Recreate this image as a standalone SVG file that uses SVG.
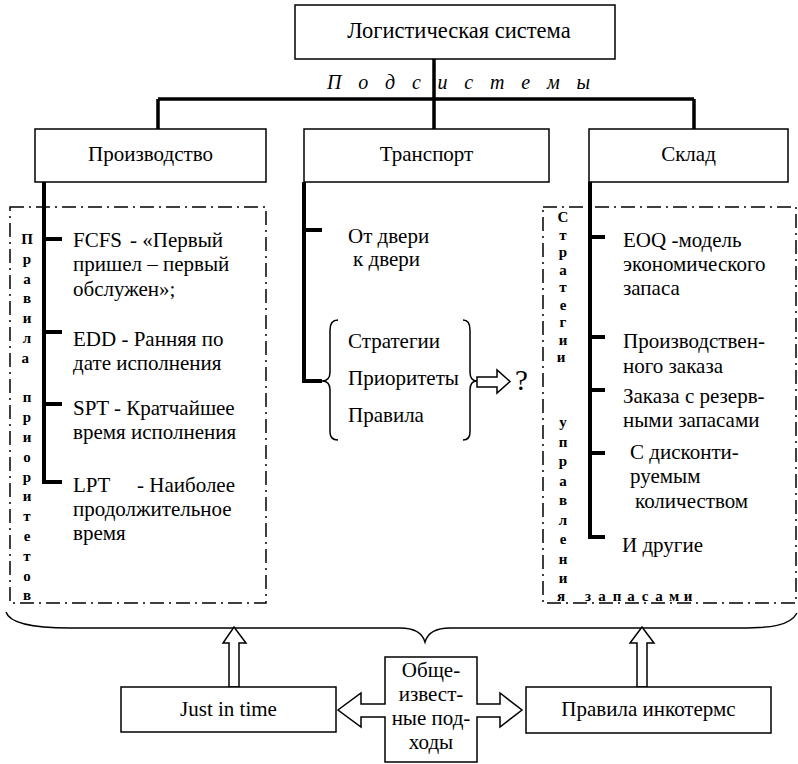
<svg xmlns="http://www.w3.org/2000/svg" width="798" height="764" viewBox="0 0 798 764" font-family="'Liberation Serif', Tinos, 'Times New Roman', serif">
<style>
.box{fill:#fff;stroke:#000;stroke-width:1.5}
.t{font-family:'Liberation Serif',Tinos,'Times New Roman',serif;font-size:21px;font-weight:normal;font-style:normal;fill:#000}
.c{text-anchor:middle}
.thick{stroke:#000;stroke-width:4;fill:none}
.bar{stroke:#000;stroke-width:3.5;fill:none}
.dd{fill:none;stroke:#000;stroke-width:1.5;stroke-dasharray:14 5 2 5}
.v{font-family:'Liberation Serif',Tinos,'Times New Roman',serif;font-weight:bold;font-size:15px;text-anchor:middle;fill:#000}
.it{font-family:'Liberation Serif',Tinos,'Times New Roman',serif;font-style:italic;font-size:20px;fill:#000}
.line{fill:none;stroke:#000;stroke-width:1.5}
.arr{fill:#fff;stroke:#000;stroke-width:1.5;stroke-linejoin:miter}
</style>
<rect width="798" height="764" fill="#fff"/>

<g id="connectors">
  <path class="bar" d="M434 59 V129 M158 99 H694 M158 99 V129 M694 99 V129"/>
  <path class="thick" d="M44 182 V482 H62 M44 239 H62 M44 332 H62 M44 404 H62"/>
  <path class="thick" d="M304 182 V381 H322 M304 230 H322"/>
  <path class="thick" d="M590 182 V537 H605 M590 237 H605 M590 337 H605 M590 390 H605 M590 453 H605"/>
  <path class="line" d="M6 612 C10 625 40 628 70 628 L400 628 C418 628 423 635 425 642 C427 635 432 628 450 628 L740 628 C770 628 790 626 797 613"/>
  <polygon class="arr" points="229,687 229,643 223,643 234,627 246,643 239,643 239,687"/>
  <polygon class="arr" points="637,687 637,643 630,643 642,627 654,643 647,643 647,687"/>
  <polygon class="arr" points="477,377 497,377 497,370 510,381.5 497,393 497,387 477,387"/>
</g>

<g id="node-logistics">
  <rect class="box" x="295" y="5" width="320" height="54"/>
  <text class="t c" x="459" y="38" style="font-size:22.5px">Логистическая система</text>
</g>

<g id="label-subsystems">
  <text class="it" x="327" y="89" textLength="263" lengthAdjust="spacing">П о д с и с т е м ы</text>
</g>

<g id="node-production">
  <rect class="box" x="35" y="129" width="231" height="53"/>
  <text class="t c" x="150.5" y="161">Производство</text>
</g>

<g id="node-transport">
  <rect class="box" x="304" y="129" width="245" height="53"/>
  <text class="t c" x="426.5" y="161">Транспорт</text>
</g>

<g id="node-warehouse">
  <rect class="box" x="589" y="129" width="199" height="53"/>
  <text class="t c" x="688.5" y="161">Склад</text>
</g>

<g id="group-priority-rules">
  <rect class="dd" x="10" y="207" width="256" height="396"/>
  <text class="v">
    <tspan x="27" y="244">П</tspan><tspan x="27" y="263.8">р</tspan><tspan x="27" y="283.6">а</tspan><tspan x="27" y="303.4">в</tspan><tspan x="27" y="323.2">и</tspan><tspan x="27" y="343">л</tspan><tspan x="27" y="362.8">а</tspan>
    <tspan x="27" y="402.4">п</tspan><tspan x="27" y="422.2">р</tspan><tspan x="27" y="442">и</tspan><tspan x="27" y="461.8">о</tspan><tspan x="27" y="481.6">р</tspan><tspan x="27" y="501.4">и</tspan><tspan x="27" y="521.2">т</tspan><tspan x="27" y="541">е</tspan><tspan x="27" y="560.8">т</tspan><tspan x="27" y="580.6">о</tspan><tspan x="27" y="600.4">в</tspan>
  </text>
  <text class="t"><tspan x="73" y="247">FCFS</tspan><tspan x="130" y="247">- «Первый</tspan></text>
  <text class="t" x="73" y="271">пришел – первый</text>
  <text class="t" x="73" y="296">обслужен»;</text>
  <text class="t" x="73" y="346">EDD - Ранняя по</text>
  <text class="t" x="73" y="370">дате исполнения</text>
  <text class="t" x="73" y="415">SPT - Кратчайшее</text>
  <text class="t" x="73" y="439">время исполнения</text>
  <text class="t"><tspan x="73" y="492">LPT</tspan><tspan x="137" y="492">- Наиболее</tspan></text>
  <text class="t" x="73" y="516">продолжительное</text>
  <text class="t" x="73" y="540">время</text>
</g>

<g id="group-transport">
  <text class="t" x="348" y="243">От двери</text>
  <text class="t" x="353" y="266">к двери</text>
  <path class="line" d="M338 320 Q330 320 330 330 L330 372 Q330 381 322 381 Q330 381 330 390 L330 432 Q330 440 338 440"/>
  <path class="line" d="M463 320 Q470 320 470 330 L470 372 Q470 381 477 381 Q470 381 470 390 L470 432 Q470 440 463 440"/>
  <text class="t" x="348" y="348">Стратегии</text>
  <text class="t" x="348" y="385">Приоритеты</text>
  <text class="t" x="348" y="422">Правила</text>
  <text class="t" x="515" y="390" style="font-size:29px">?</text>
</g>

<g id="group-inventory-strategies">
  <rect class="dd" x="543" y="207" width="253" height="396"/>
  <text class="v">
    <tspan x="563" y="222">С</tspan><tspan x="563" y="239.5">т</tspan><tspan x="563" y="257">р</tspan><tspan x="563" y="274.5">а</tspan><tspan x="563" y="292">т</tspan><tspan x="563" y="309.5">е</tspan><tspan x="563" y="327">г</tspan><tspan x="563" y="344.5">и</tspan><tspan x="563" y="362">и</tspan>
    <tspan x="563" y="427">у</tspan><tspan x="563" y="446.5">п</tspan><tspan x="563" y="466">р</tspan><tspan x="563" y="485.5">а</tspan><tspan x="563" y="505">в</tspan><tspan x="563" y="524.5">л</tspan><tspan x="563" y="544">е</tspan><tspan x="563" y="563.5">н</tspan><tspan x="563" y="583">и</tspan><tspan x="563" y="601">я</tspan>
    <tspan x="588" y="601">з</tspan><tspan x="602" y="601">а</tspan><tspan x="617" y="601">п</tspan><tspan x="631" y="601">а</tspan><tspan x="645" y="601">с</tspan><tspan x="659" y="601">а</tspan><tspan x="674" y="601">м</tspan><tspan x="688" y="601">и</tspan>
  </text>
  <text class="t" x="623" y="247">EOQ -модель</text>
  <text class="t" x="623" y="271">экономического</text>
  <text class="t" x="623" y="295">запаса</text>
  <text class="t" x="623" y="348">Производствен-</text>
  <text class="t" x="623" y="373">ного заказа</text>
  <text class="t" x="623" y="403">Заказа с резерв-</text>
  <text class="t" x="623" y="427">ными запасами</text>
  <text class="t" x="630" y="459">С дисконти-</text>
  <text class="t" x="630" y="483">руемым</text>
  <text class="t" x="635" y="508">количеством</text>
  <text class="t" x="622" y="552">И другие</text>
</g>

<g id="node-jit">
  <rect class="box" x="121" y="687" width="215" height="45"/>
  <text class="t c" x="228.5" y="716">Just in time</text>
</g>

<g id="node-incoterms">
  <rect class="box" x="526" y="687" width="245" height="46"/>
  <text class="t c" x="648.5" y="716">Правила инкотермс</text>
</g>

<g id="node-common-approaches">
  <path class="arr" d="M385 657 H477 V704 H500 V693 L522 710 L500 727 V717 H477 V762 H385 V717 H361 V727 L338 710 L361 693 V704 H385 Z"/>
  <text class="t c" x="431" y="677">Обще-</text>
  <text class="t c" x="431" y="701">извест-</text>
  <text class="t c" x="431" y="725">ные под-</text>
  <text class="t c" x="431" y="749">ходы</text>
</g>
</svg>
